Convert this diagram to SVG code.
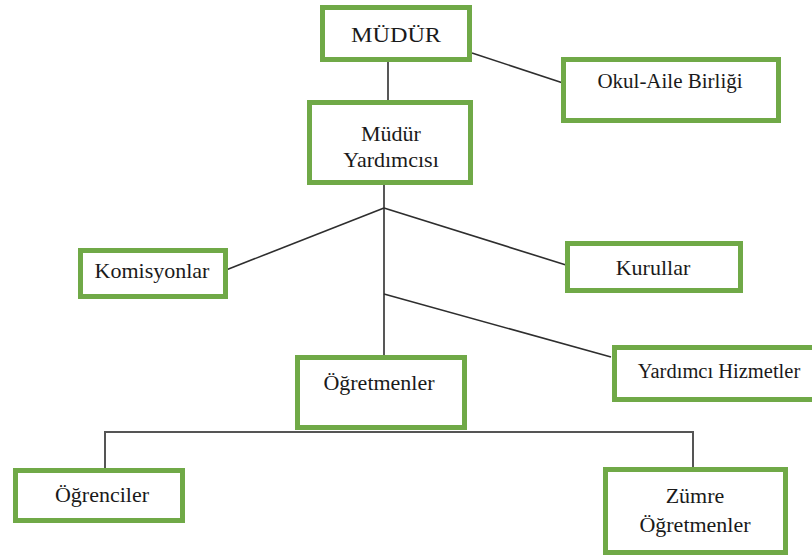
<svg xmlns="http://www.w3.org/2000/svg" width="812" height="560" viewBox="0 0 812 560">
<style>
.box{fill:#fff;stroke:#70a947;stroke-width:5}
.t{font-family:"Liberation Serif","Times New Roman",serif;font-size:22px;fill:#1a1a1a;text-anchor:middle}
.ln{stroke:#2e2e2e;stroke-width:1.6;fill:none}
.ln2{stroke:#555;stroke-width:2;fill:none}
</style>
<rect width="812" height="560" fill="#fff"/>
<g id="connectors">
<line class="ln" x1="388" y1="62" x2="388" y2="101"/>
<line class="ln" x1="472" y1="53" x2="563" y2="83"/>
<line class="ln" x1="384" y1="184" x2="384" y2="356"/>
<line class="ln" x1="384" y1="208" x2="226" y2="270"/>
<line class="ln" x1="384" y1="208" x2="566" y2="265"/>
<line class="ln" x1="384" y1="294" x2="611" y2="357"/>
<polyline class="ln2" points="105,468 105,432 693,432 693,468"/>
</g>
<g id="mudur">
<rect class="box" x="322.5" y="7.5" width="147" height="52"/>
<text class="t" x="396" y="42" transform="translate(396 0) scale(1.1 1) translate(-396 0)">MÜDÜR</text>
</g>
<g id="okul-aile">
<rect class="box" x="563.5" y="59.5" width="215" height="61"/>
<text class="t" x="670" y="88" style="font-size:21px">Okul-Aile Birliği</text>
</g>
<g id="mudur-yardimcisi">
<rect class="box" x="309.5" y="102.5" width="161" height="80"/>
<text class="t" x="391" y="141">Müdür</text>
<text class="t" x="391" y="167">Yardımcısı</text>
</g>
<g id="komisyonlar">
<rect class="box" x="80.5" y="250.5" width="145" height="46"/>
<text class="t" x="152" y="278">Komisyonlar</text>
</g>
<g id="kurullar">
<rect class="box" x="567.5" y="243.5" width="173" height="47"/>
<text class="t" x="653" y="275">Kurullar</text>
</g>
<g id="yardimci-hizmetler">
<rect class="box" x="614.5" y="347.5" width="205" height="52"/>
<text class="t" x="719" y="378" style="font-size:20.5px">Yardımcı Hizmetler</text>
</g>
<g id="ogretmenler">
<rect class="box" x="297.5" y="357.5" width="167" height="70"/>
<text class="t" x="379" y="390">Öğretmenler</text>
</g>
<g id="ogrenciler">
<rect class="box" x="15.5" y="470.5" width="167" height="50"/>
<text class="t" x="102" y="502">Öğrenciler</text>
</g>
<g id="zumre-ogretmenler">
<rect class="box" x="605.5" y="469.5" width="180" height="83"/>
<text class="t" x="695" y="503">Zümre</text>
<text class="t" x="695" y="532">Öğretmenler</text>
</g>
</svg>
